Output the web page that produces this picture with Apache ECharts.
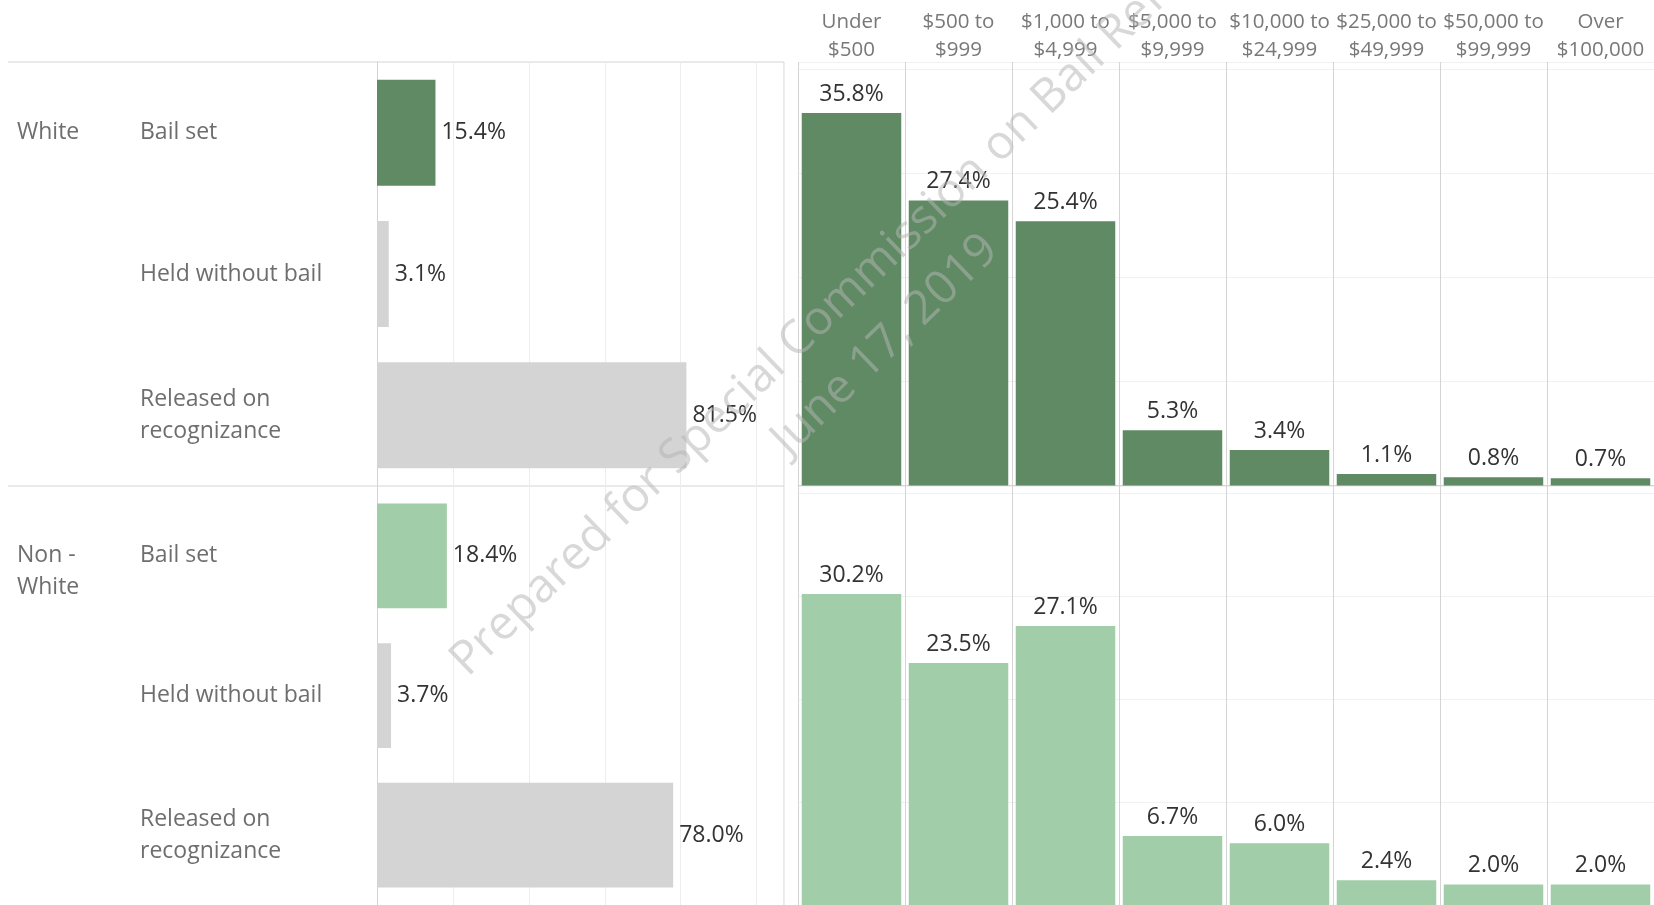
<!DOCTYPE html>
<html lang="en">
<head>
<meta charset="UTF-8">
<title>Bail outcomes by race</title>
<script src="https://cdn.jsdelivr.net/npm/echarts@6/dist/echarts.min.js"></script>
<style>
    body { margin: 0; padding: 0; background: #fff; overflow: hidden; }
    #chart { width: 1654px; height: 905px; }
</style>
</head>
<body>
<div id="chart"></div>
<script>
    // share of cases by outcome (percent)
    const groups = ['White', 'Non -\nWhite'];
    const outcomes = ['Bail set', 'Held without bail', 'Released on\nrecognizance'];
    const outcomeWhite = [15.4, 3.1, 81.5];
    const outcomeNonWhite = [18.4, 3.7, 78.0];

    // bail amount distribution where bail was set (percent)
    const bailBands = ['Under\n$500', '$500 to\n$999', '$1,000 to\n$4,999', '$5,000 to\n$9,999',
        '$10,000 to\n$24,999', '$25,000 to\n$49,999', '$50,000 to\n$99,999', 'Over\n$100,000'];
    const bailWhite = [35.8, 27.4, 25.4, 5.3, 3.4, 1.1, 0.8, 0.7];
    const bailNonWhite = [30.2, 23.5, 27.1, 6.7, 6.0, 2.4, 2.0, 2.0];

    const FONT = 'Open Sans';
    const LINE = '#d4d4d4';
    const FAINT = '#ededed';
    const greens = ['#5f8a63', '#a2cda9'];
    const grey = '#d4d4d4';

    // layout in px
    const rowTop = 62, rowH = 424;
    const leftX = 377, leftW = 407;
    const rightX = 798, rightW = 858;

    const chart = echarts.init(document.getElementById('chart'));

    const pct = p => p.value.toFixed(1) + '%';
    // first line of the group name sits on the first row's centre
    const groupLabel = g => '\n'.repeat(g.split('\n').length - 1) + g;

    const leftX_axis = i => ({
        type: 'value', gridIndex: i, min: 0, max: 107.2, interval: 20,
        axisLabel: { show: false }, axisLine: { show: false }, axisTick: { show: false },
        splitLine: { show: true, lineStyle: { color: FAINT, width: 1 } }
    });
    const outcomeAxis = i => ({
        type: 'category', gridIndex: i, inverse: true, data: outcomes, position: 'left',
        axisLine: { show: true, lineStyle: { color: LINE } }, axisTick: { show: false },
        axisLabel: { align: 'left', margin: leftX - 140, fontFamily: FONT, fontSize: 23,
            color: '#6e6e6e', lineHeight: 32 }
    });
    const groupAxis = i => ({
        type: 'category', gridIndex: i, inverse: true, data: outcomes, position: 'left',
        axisLine: { show: false }, axisTick: { show: false }, splitLine: { show: false },
        axisLabel: { align: 'left', margin: leftX - 17, fontFamily: FONT, fontSize: 23,
            color: '#6e6e6e', lineHeight: 32,
            formatter: (v, idx) => idx === 0 ? groupLabel(groups[i]) : '' }
    });
    const bandAxis = (i, top) => ({
        type: 'category', gridIndex: i, position: 'top', data: bailBands,
        axisLine: { show: true, lineStyle: { color: LINE } },
        axisTick: { show: top, length: 55, interval: 0, lineStyle: { color: LINE } },
        axisLabel: { show: top, interval: 0, margin: -2, fontFamily: FONT, fontSize: 20.5,
            color: '#787878', lineHeight: 28 },
        splitLine: { show: true, interval: 0, lineStyle: { color: LINE } }
    });
    const shareAxis = i => ({
        type: 'value', gridIndex: i, min: 0, max: 40.7, interval: 10,
        axisLabel: { show: false }, axisLine: { show: false }, axisTick: { show: false },
        splitLine: { show: true, lineStyle: { color: '#f1f1f1' } }
    });

    const outcomeSeries = (i, data) => ({
        type: 'bar', xAxisIndex: i, yAxisIndex: i, data: data, barCategoryGap: '25%',
        itemStyle: { color: p => p.dataIndex === 0 ? greens[i] : grey },
        label: { show: true, position: 'right', distance: 6, formatter: pct,
            fontFamily: FONT, fontSize: 23, color: '#333' }
    });
    const bandSeries = (i, data) => ({
        type: 'bar', xAxisIndex: 2 + i, yAxisIndex: 4 + i, data: data, barCategoryGap: '7%',
        itemStyle: { color: greens[i] },
        label: { show: true, position: 'top', distance: 7, formatter: pct,
            fontFamily: FONT, fontSize: 23, color: '#333' }
    });

    chart.setOption({
        animation: false,
        backgroundColor: '#fff',
        grid: [
            { left: leftX, top: rowTop, width: leftW, height: rowH },
            { left: leftX, top: rowTop + rowH, width: leftW, height: rowH },
            { left: rightX, top: rowTop, width: rightW, height: rowH - 0.5 },
            { left: rightX, top: rowTop + rowH, width: rightW, height: rowH - 2 }
        ],
        xAxis: [leftX_axis(0), leftX_axis(1), bandAxis(2, true), bandAxis(3, false)],
        yAxis: [outcomeAxis(0), outcomeAxis(1), groupAxis(0), groupAxis(1), shareAxis(2), shareAxis(3)],
        series: [
            outcomeSeries(0, outcomeWhite),
            outcomeSeries(1, outcomeNonWhite),
            bandSeries(0, bailWhite),
            bandSeries(1, bailNonWhite)
        ],
        graphic: [
            { type: 'line', silent: true, shape: { x1: 8, y1: rowTop, x2: leftX + leftW, y2: rowTop },
              style: { stroke: LINE, lineWidth: 1 } },
            { type: 'line', silent: true, shape: { x1: 8, y1: rowTop + rowH, x2: leftX + leftW, y2: rowTop + rowH },
              style: { stroke: LINE, lineWidth: 1 } },
            { type: 'line', silent: true, shape: { x1: leftX + leftW, y1: rowTop, x2: leftX + leftW, y2: 905 },
              style: { stroke: LINE, lineWidth: 1 } },
            {
                type: 'text', silent: true, z: 100, x: 863, y: 322, rotation: 44 * Math.PI / 180,
                style: {
                    text: 'Prepared for Special Commission on Bail Reform\nJune 17, 2019',
                    fontFamily: FONT, fontSize: 47, lineHeight: 64,
                    fill: 'rgba(181,181,181,0.52)', align: 'center', verticalAlign: 'middle'
                }
            }
        ]
    });
</script>
</body>
</html>
